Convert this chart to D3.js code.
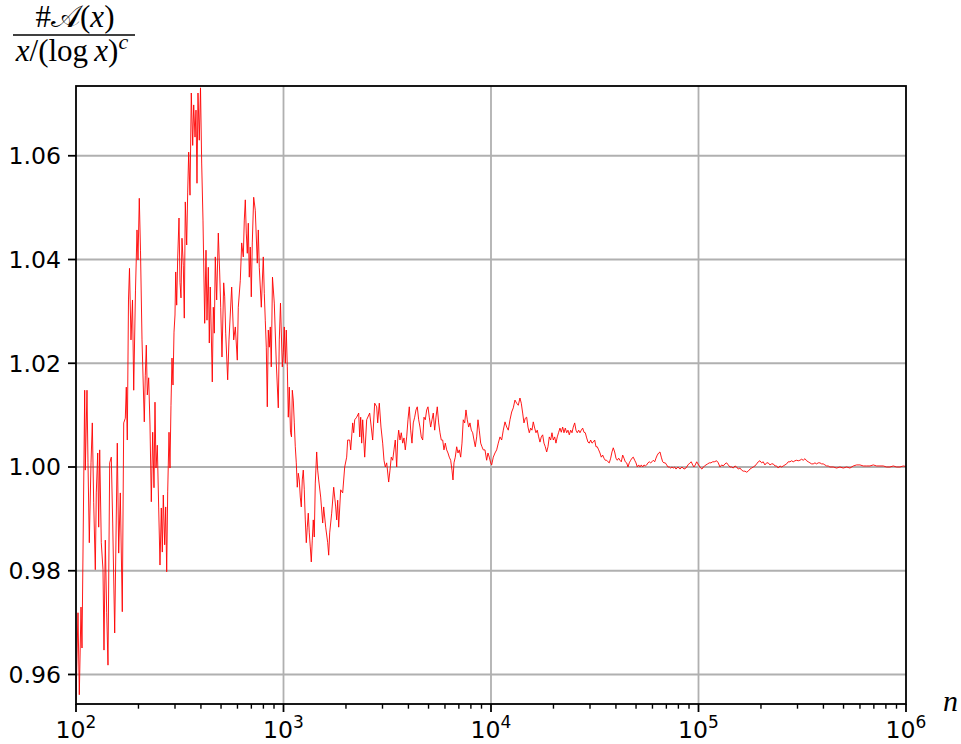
<!DOCTYPE html>
<html>
<head>
<meta charset="utf-8">
<script src="https://cdn.jsdelivr.net/npm/d3@7"></script>
<style>
  body { margin: 0; background: #fff; }
  svg { display: block; }
</style>
</head>
<body>
<svg id="chart" width="961" height="744"></svg>
<script>
// x values as log10(n)
const logN = [
  2.0000, 2.0096, 2.0159, 2.0241, 2.0289, 2.0419, 2.0448, 2.0530, 2.0578, 2.0641,
  2.0723, 2.0786, 2.0853, 2.0930, 2.0978, 2.1046, 2.1094, 2.1142, 2.1219, 2.1301,
  2.1349, 2.1412, 2.1479, 2.1542, 2.1624, 2.1701, 2.1769, 2.1865, 2.1990, 2.2058,
  2.2135, 2.2231, 2.2299, 2.2376, 2.2424, 2.2472, 2.2530, 2.2578, 2.2650, 2.2723,
  2.2781, 2.2867, 2.2940, 2.2988, 2.3050, 2.3108, 2.3181, 2.3291, 2.3340, 2.3388,
  2.3436, 2.3503, 2.3566, 2.3629, 2.3696, 2.3759, 2.3807, 2.3855, 2.3918, 2.3985,
  2.4048, 2.4111, 2.4159, 2.4207, 2.4274, 2.4323, 2.4371, 2.4419, 2.4482, 2.4530,
  2.4578, 2.4626, 2.4674, 2.4723, 2.4771, 2.4805, 2.4853, 2.4901, 2.4964, 2.5012,
  2.5060, 2.5108, 2.5171, 2.5219, 2.5267, 2.5335, 2.5383, 2.5431, 2.5494, 2.5556,
  2.5624, 2.5672, 2.5735, 2.5783, 2.5831, 2.5879, 2.5942, 2.6000, 2.6057, 2.6120,
  2.6202, 2.6265, 2.6313, 2.6376, 2.6424, 2.6472, 2.6568, 2.6617, 2.6665, 2.6713,
  2.6780, 2.6858, 2.6925, 2.6973, 2.7036, 2.7118, 2.7166, 2.7214, 2.7310, 2.7373,
  2.7503, 2.7600, 2.7677, 2.7773, 2.7821, 2.7918, 2.7985, 2.8062, 2.8110, 2.8159,
  2.8207, 2.8255, 2.8303, 2.8351, 2.8399, 2.8448, 2.8496, 2.8563, 2.8640, 2.8737,
  2.8785, 2.8833, 2.8930, 2.9026, 2.9074, 2.9122, 2.9171, 2.9219, 2.9267, 2.9315,
  2.9363, 2.9411, 2.9469, 2.9556, 2.9653, 2.9749, 2.9797, 2.9855, 2.9942, 2.9990,
  3.0038, 3.0086, 3.0134, 3.0183, 3.0231, 3.0279, 3.0337, 3.0385, 3.0424, 3.0472,
  3.0520, 3.0568, 3.0616, 3.0664, 3.0713, 3.0761, 3.0809, 3.0857, 3.0905, 3.0953,
  3.1002, 3.1050, 3.1098, 3.1146, 3.1194, 3.1243, 3.1291, 3.1339, 3.1387, 3.1435,
  3.1483, 3.1532, 3.1599, 3.1647, 3.1696, 3.1792, 3.1889, 3.1937, 3.2033, 3.2130,
  3.2178, 3.2226, 3.2322, 3.2419, 3.2515, 3.2563, 3.2611, 3.2659, 3.2756, 3.2852,
  3.2949, 3.3045, 3.3093, 3.3190, 3.3238, 3.3334, 3.3382, 3.3431, 3.3527, 3.3623,
  3.3672, 3.3720, 3.3768, 3.3816, 3.3913, 3.4009, 3.4153, 3.4298, 3.4394, 3.4491,
  3.4539, 3.4616, 3.4698, 3.4780, 3.4843, 3.4905, 3.4973, 3.5069, 3.5132, 3.5194,
  3.5262, 3.5324, 3.5387, 3.5455, 3.5503, 3.5551, 3.5614, 3.5676, 3.5744, 3.5806,
  3.5869, 3.5937, 3.5999, 3.6062, 3.6129, 3.6192, 3.6255, 3.6322, 3.6385, 3.6447,
  3.6515, 3.6577, 3.6640, 3.6708, 3.6770, 3.6833, 3.6900, 3.6963, 3.7026, 3.7093,
  3.7156, 3.7218, 3.7286, 3.7348, 3.7411, 3.7478, 3.7541, 3.7604, 3.7671, 3.7734,
  3.7797, 3.7864, 3.7927, 3.7989, 3.8057, 3.8119, 3.8168, 3.8216, 3.8278, 3.8346,
  3.8409, 3.8471, 3.8539, 3.8602, 3.8664, 3.8732, 3.8794, 3.8857, 3.8924, 3.8987,
  3.9050, 3.9117, 3.9180, 3.9242, 3.9310, 3.9372, 3.9435, 3.9503, 3.9565, 3.9628,
  3.9710, 3.9791, 3.9854, 3.9917, 3.9984, 4.0032, 4.0110, 4.0192, 4.0273, 4.0351,
  4.0433, 4.0514, 4.0592, 4.0674, 4.0756, 4.0833, 4.0915, 4.0996, 4.1074, 4.1155,
  4.1237, 4.1314, 4.1396, 4.1459, 4.1526, 4.1589, 4.1652, 4.1719, 4.1782, 4.1845,
  4.1912, 4.1975, 4.2037, 4.2105, 4.2167, 4.2230, 4.2298, 4.2360, 4.2423, 4.2490,
  4.2553, 4.2616, 4.2683, 4.2746, 4.2809, 4.2876, 4.2939, 4.3001, 4.3069, 4.3131,
  4.3194, 4.3262, 4.3324, 4.3387, 4.3454, 4.3517, 4.3580, 4.3647, 4.3710, 4.3773,
  4.3840, 4.3903, 4.3965, 4.4033, 4.4095, 4.4158, 4.4226, 4.4288, 4.4351, 4.4418,
  4.4481, 4.4544, 4.4611, 4.4674, 4.4736, 4.4804, 4.4866, 4.4929, 4.4997, 4.5059,
  4.5122, 4.5189, 4.5252, 4.5315, 4.5382, 4.5445, 4.5507, 4.5575, 4.5637, 4.5700,
  4.5768, 4.5830, 4.5893, 4.5960, 4.6023, 4.6086, 4.6153, 4.6216, 4.6279, 4.6346,
  4.6409, 4.6471, 4.6539, 4.6601, 4.6664, 4.6732, 4.6794, 4.6857, 4.6924, 4.6987,
  4.7050, 4.7117, 4.7180, 4.7243, 4.7310, 4.7373, 4.7435, 4.7503, 4.7565, 4.7628,
  4.7696, 4.7758, 4.7821, 4.7889, 4.7951, 4.8014, 4.8081, 4.8144, 4.8207, 4.8274,
  4.8337, 4.8399, 4.8467, 4.8529, 4.8592, 4.8659, 4.8722, 4.8785, 4.8852, 4.8915,
  4.9011, 4.9107, 4.9204, 4.9300, 4.9396, 4.9492, 4.9589, 4.9652, 4.9719, 4.9781,
  4.9844, 4.9912, 4.9974, 5.0037, 5.0104, 5.0167, 5.0230, 5.0297, 5.0360, 5.0442,
  5.0519, 5.0601, 5.0683, 5.0760, 5.0875, 5.0953, 5.1034, 5.1116, 5.1193, 5.1275,
  5.1357, 5.1434, 5.1516, 5.1598, 5.1675, 5.1757, 5.1838, 5.1916, 5.1998, 5.2079,
  5.2156, 5.2238, 5.2320, 5.2397, 5.2479, 5.2561, 5.2638, 5.2720, 5.2802, 5.2879,
  5.2961, 5.3042, 5.3119, 5.3201, 5.3283, 5.3360, 5.3442, 5.3524, 5.3601, 5.3685,
  5.3765, 5.3842, 5.3926, 5.4006, 5.4083, 5.4167, 5.4247, 5.4324, 5.4408, 5.4488,
  5.4565, 5.4649, 5.4729, 5.4806, 5.4890, 5.4970, 5.5047, 5.5131, 5.5211, 5.5288,
  5.5371, 5.5452, 5.5529, 5.5612, 5.5692, 5.5769, 5.5853, 5.5933, 5.6010, 5.6094,
  5.6174, 5.6251, 5.6335, 5.6495, 5.6656, 5.6817, 5.6977, 5.7138, 5.7299, 5.7459,
  5.7620, 5.7781, 5.7941, 5.8102, 5.8263, 5.8423, 5.8584, 5.8745, 5.8905, 5.9066,
  5.9227, 5.9387, 5.9548, 5.9709, 5.9869, 6.0000
];

// #A(x) / (x / (log x)^c)
const ratio = [
  0.9551, 0.9719, 0.9561, 0.9730, 0.9651, 1.0148, 0.9994, 1.0148, 1.0008, 0.9854,
  1.0008, 1.0085, 0.9931, 0.9802, 0.9950, 1.0027, 0.9884, 1.0033, 0.9854, 0.9802,
  0.9647, 0.9859, 0.9719, 0.9618, 1.0008, 1.0019, 0.9892, 0.9680, 1.0046, 0.9834,
  0.9950, 0.9721, 1.0085, 1.0094, 1.0154, 1.0052, 1.0322, 1.0383, 1.0245, 1.0322,
  1.0148, 1.0341, 1.0457, 1.0399, 1.0518, 1.0418, 1.0245, 1.0087, 1.0177, 1.0235,
  1.0139, 1.0172, 1.0081, 0.9933, 1.0067, 0.9960, 1.0125, 0.9998, 1.0042, 0.9921,
  0.9811, 0.9921, 0.9836, 0.9946, 0.9850, 0.9923, 0.9798, 0.9952, 1.0067, 0.9998,
  1.0119, 1.0210, 1.0158, 1.0260, 1.0293, 1.0376, 1.0312, 1.0403, 1.0480, 1.0356,
  1.0326, 1.0441, 1.0389, 1.0287, 1.0511, 1.0428, 1.0530, 1.0607, 1.0524, 1.0721,
  1.0620, 1.0698, 1.0636, 1.0688, 1.0547, 1.0721, 1.0630, 1.0731, 1.0586, 1.0476,
  1.0277, 1.0418, 1.0283, 1.0385, 1.0239, 1.0347, 1.0164, 1.0308, 1.0258, 1.0405,
  1.0322, 1.0451, 1.0374, 1.0308, 1.0212, 1.0355, 1.0328, 1.0258, 1.0168, 1.0245,
  1.0347, 1.0245, 1.0270, 1.0206, 1.0308, 1.0360, 1.0432, 1.0405, 1.0476, 1.0515,
  1.0451, 1.0412, 1.0470, 1.0366, 1.0424, 1.0328, 1.0432, 1.0520, 1.0495, 1.0393,
  1.0457, 1.0385, 1.0308, 1.0405, 1.0335, 1.0283, 1.0231, 1.0116, 1.0264, 1.0231,
  1.0270, 1.0193, 1.0366, 1.0316, 1.0200, 1.0114, 1.0245, 1.0316, 1.0193, 1.0220,
  1.0270, 1.0200, 1.0264, 1.0193, 1.0096, 1.0154, 1.0067, 1.0058, 1.0148, 1.0129,
  1.0085, 1.0039, 1.0008, 0.9961, 0.9988, 0.9975, 0.9942, 0.9923, 0.9975, 0.9994,
  0.9956, 0.9898, 0.9854, 0.9884, 0.9911, 0.9873, 0.9846, 0.9817, 0.9859, 0.9898,
  0.9865, 0.9969, 1.0029, 0.9994, 0.9975, 0.9942, 0.9892, 0.9923, 0.9884, 0.9854,
  0.9830, 0.9873, 0.9911, 0.9961, 0.9923, 0.9898, 0.9936, 0.9884, 0.9956, 0.9950,
  1.0000, 1.0019, 1.0052, 1.0052, 1.0033, 1.0085, 1.0066, 1.0091, 1.0096, 1.0104,
  1.0058, 1.0096, 1.0046, 1.0091, 1.0019, 1.0091, 1.0104, 1.0052, 1.0123, 1.0116,
  1.0085, 1.0123, 1.0077, 1.0046, 1.0013, 1.0000, 1.0008, 0.9971, 0.9994, 1.0019,
  1.0013, 1.0033, 1.0052, 1.0000, 1.0052, 1.0071, 1.0052, 1.0066, 1.0046, 1.0056,
  1.0033, 1.0058, 1.0091, 1.0116, 1.0071, 1.0046, 1.0085, 1.0096, 1.0110, 1.0116,
  1.0091, 1.0077, 1.0058, 1.0052, 1.0096, 1.0091, 1.0110, 1.0116, 1.0096, 1.0077,
  1.0091, 1.0104, 1.0071, 1.0096, 1.0116, 1.0085, 1.0066, 1.0052, 1.0052, 1.0033,
  1.0046, 1.0033, 1.0027, 1.0019, 1.0013, 0.9994, 0.9975, 1.0008, 1.0019, 1.0039,
  1.0027, 1.0033, 1.0019, 1.0046, 1.0091, 1.0085, 1.0110, 1.0091, 1.0077, 1.0085,
  1.0071, 1.0066, 1.0052, 1.0039, 1.0058, 1.0091, 1.0071, 1.0046, 1.0039, 1.0033,
  1.0033, 1.0013, 1.0027, 1.0019, 1.0008, 1.0004, 1.0019, 1.0027, 1.0033, 1.0046,
  1.0058, 1.0052, 1.0071, 1.0087, 1.0077, 1.0071, 1.0091, 1.0106, 1.0114, 1.0129,
  1.0123, 1.0119, 1.0133, 1.0123, 1.0104, 1.0085, 1.0094, 1.0096, 1.0077, 1.0066,
  1.0075, 1.0071, 1.0087, 1.0075, 1.0066, 1.0071, 1.0058, 1.0048, 1.0058, 1.0062,
  1.0046, 1.0039, 1.0029, 1.0039, 1.0058, 1.0052, 1.0066, 1.0052, 1.0058, 1.0046,
  1.0058, 1.0067, 1.0075, 1.0067, 1.0077, 1.0066, 1.0075, 1.0066, 1.0071, 1.0062,
  1.0071, 1.0066, 1.0077, 1.0085, 1.0071, 1.0066, 1.0071, 1.0066, 1.0071, 1.0075,
  1.0067, 1.0066, 1.0056, 1.0048, 1.0046, 1.0052, 1.0046, 1.0048, 1.0052, 1.0039,
  1.0039, 1.0033, 1.0027, 1.0019, 1.0023, 1.0017, 1.0013, 1.0013, 1.0010, 1.0008,
  1.0017, 1.0029, 1.0037, 1.0029, 1.0017, 1.0013, 1.0017, 1.0013, 1.0010, 1.0023,
  1.0017, 1.0010, 1.0008, 1.0000, 1.0008, 1.0013, 1.0017, 1.0019, 1.0013, 1.0008,
  1.0000, 1.0004, 1.0000, 1.0004, 1.0000, 1.0004, 1.0002, 1.0004, 1.0008, 1.0010,
  1.0008, 1.0010, 1.0013, 1.0010, 1.0017, 1.0023, 1.0027, 1.0029, 1.0019, 1.0010,
  1.0008, 1.0008, 1.0004, 1.0000, 1.0000, 0.9998, 1.0000, 0.9998, 1.0000, 0.9996,
  1.0000, 0.9996, 1.0000, 0.9996, 0.9998, 1.0004, 1.0008, 1.0010, 1.0004, 1.0000,
  1.0004, 1.0010, 1.0006, 1.0002, 0.9998, 0.9996, 1.0000, 1.0002, 1.0004, 1.0006,
  1.0008, 1.0008, 1.0010, 1.0010, 1.0012, 1.0008, 1.0000, 1.0004, 1.0002, 1.0006,
  1.0008, 1.0004, 1.0000, 1.0000, 0.9998, 1.0002, 1.0000, 0.9996, 0.9998, 0.9994,
  0.9992, 0.9992, 0.9990, 0.9992, 0.9996, 0.9998, 1.0000, 1.0002, 1.0006, 1.0010,
  1.0012, 1.0008, 1.0010, 1.0004, 1.0008, 1.0008, 1.0004, 1.0006, 1.0006, 1.0002,
  1.0002, 0.9998, 1.0002, 1.0000, 1.0002, 1.0004, 1.0006, 1.0010, 1.0010, 1.0012,
  1.0010, 1.0012, 1.0013, 1.0012, 1.0013, 1.0015, 1.0013, 1.0016, 1.0012, 1.0010,
  1.0008, 1.0006, 1.0006, 1.0008, 1.0006, 1.0008, 1.0008, 1.0006, 1.0006, 1.0004,
  1.0002, 1.0002, 1.0000, 1.0000, 0.9998, 1.0000, 0.9998, 1.0000, 0.9998, 1.0002,
  1.0004, 1.0004, 1.0002, 1.0002, 1.0002, 1.0004, 1.0002, 1.0002, 1.0002, 1.0000,
  1.0000, 1.0002, 1.0000, 1.0000, 1.0002, 1.0001
];

const yTicks = [0.96, 0.98, 1.00, 1.02, 1.04, 1.06];
const xDecades = [2, 3, 4, 5, 6];
const yDomain = [0.95431, 1.07345];

const width = 961, height = 744;
const margin = { top: 86, right: 55, bottom: 40, left: 76 };
const tickLen = 8, minorLen = 4.7, tickPad = 7;
const gridColor = "#b0b0b0";

const svg = d3.select("#chart");

const x = d3.scaleLog()
  .domain([10 ** xDecades[0], 10 ** xDecades[xDecades.length - 1]])
  .range([margin.left, width - margin.right]);

const y = d3.scaleLinear()
  .domain(yDomain)
  .range([height - margin.bottom, margin.top]);

const len = Math.min(logN.length, ratio.length);
const data = d3.range(len).map(i => ({ n: 10 ** logN[i], r: ratio[i] }));

const majors = xDecades.map(k => 10 ** k);
const minors = xDecades.slice(0, -1)
  .flatMap(k => d3.range(2, 10).map(m => m * 10 ** k));

// grid
const grid = svg.append("g").attr("class", "grid")
  .attr("stroke", gridColor)
  .attr("stroke-width", 1.8);

grid.selectAll(".gx")
  .data(majors.slice(1, -1))
  .join("line")
  .attr("class", "gx")
  .attr("x1", x).attr("x2", x)
  .attr("y1", margin.top).attr("y2", height - margin.bottom);

grid.selectAll(".gy")
  .data(yTicks)
  .join("line")
  .attr("class", "gy")
  .attr("y1", y).attr("y2", y)
  .attr("x1", margin.left).attr("x2", width - margin.right);

// series
svg.append("clipPath").attr("id", "plot-clip")
  .append("rect")
  .attr("x", margin.left).attr("y", margin.top)
  .attr("width", width - margin.left - margin.right)
  .attr("height", height - margin.top - margin.bottom);

const line = d3.line()
  .x(d => x(d.n))
  .y(d => y(d.r));

svg.append("path")
  .datum(data)
  .attr("clip-path", "url(#plot-clip)")
  .attr("fill", "none")
  .attr("stroke", "#ff0000")
  .attr("stroke-width", 0.9)
  .attr("stroke-linejoin", "round")
  .attr("d", line);

// frame
svg.append("rect")
  .attr("x", margin.left).attr("y", margin.top)
  .attr("width", width - margin.left - margin.right)
  .attr("height", height - margin.top - margin.bottom)
  .attr("fill", "none")
  .attr("stroke", "#000")
  .attr("stroke-width", 1.8);

// x axis ticks
const xAxis = svg.append("g").attr("class", "x-axis")
  .attr("stroke", "#000");

xAxis.selectAll(".major")
  .data(majors)
  .join("line")
  .attr("class", "major")
  .attr("x1", x).attr("x2", x)
  .attr("y1", height - margin.bottom)
  .attr("y2", height - margin.bottom + tickLen)
  .attr("stroke-width", 1.8);

xAxis.selectAll(".minor")
  .data(minors)
  .join("line")
  .attr("class", "minor")
  .attr("x1", x).attr("x2", x)
  .attr("y1", height - margin.bottom)
  .attr("y2", height - margin.bottom + minorLen)
  .attr("stroke-width", 1.4);

const xLabels = svg.append("g")
  .attr("font-family", "DejaVu Sans, sans-serif")
  .attr("fill", "#000")
  .selectAll("text")
  .data(xDecades)
  .join("text")
  .attr("x", k => x(10 ** k))
  .attr("y", height - margin.bottom + tickLen + tickPad + 19)
  .attr("text-anchor", "middle")
  .attr("font-size", 23.6);

xLabels.append("tspan").text("10");
xLabels.append("tspan")
  .attr("font-size", 17)
  .attr("dy", -10)
  .text(k => k);

// y axis ticks
svg.append("g").attr("class", "y-axis")
  .selectAll("line")
  .data(yTicks)
  .join("line")
  .attr("x1", margin.left - tickLen).attr("x2", margin.left)
  .attr("y1", y).attr("y2", y)
  .attr("stroke", "#000")
  .attr("stroke-width", 1.8);

svg.append("g")
  .attr("font-family", "DejaVu Sans, sans-serif")
  .attr("font-size", 23.6)
  .attr("fill", "#000")
  .selectAll("text")
  .data(yTicks)
  .join("text")
  .attr("x", margin.left - tickLen - tickPad)
  .attr("y", y)
  .attr("dy", "0.36em")
  .attr("text-anchor", "end")
  .text(d3.format(".2f"));

// axis titles (tex style)
const serif = "Liberation Serif, DejaVu Serif, serif";
const title = svg.append("g")
  .attr("font-family", serif)
  .attr("font-size", 31)
  .attr("fill", "#000");

const num = title.append("text")
  .attr("x", 75).attr("y", 27)
  .attr("text-anchor", "middle");
num.append("tspan").text("#");
num.append("tspan").text("\u{1D49C}");
num.append("tspan").text("(");
num.append("tspan").attr("font-style", "italic").text("x");
num.append("tspan").text(")");

title.append("line")
  .attr("x1", 13).attr("x2", 135)
  .attr("y1", 35).attr("y2", 35)
  .attr("stroke", "#000")
  .attr("stroke-width", 1.3);

const den = title.append("text")
  .attr("x", 72).attr("y", 61)
  .attr("text-anchor", "middle");
den.append("tspan").attr("font-style", "italic").text("x");
den.append("tspan").text("/(log\u2009");
den.append("tspan").attr("font-style", "italic").text("x");
den.append("tspan").text(")");
den.append("tspan")
  .attr("font-style", "italic")
  .attr("font-size", 22)
  .attr("dy", -12)
  .text("c");

svg.append("text")
  .attr("x", 943).attr("y", 711)
  .attr("font-family", serif)
  .attr("font-style", "italic")
  .attr("font-size", 30)
  .attr("fill", "#000")
  .text("n");
</script>
</body>
</html>
